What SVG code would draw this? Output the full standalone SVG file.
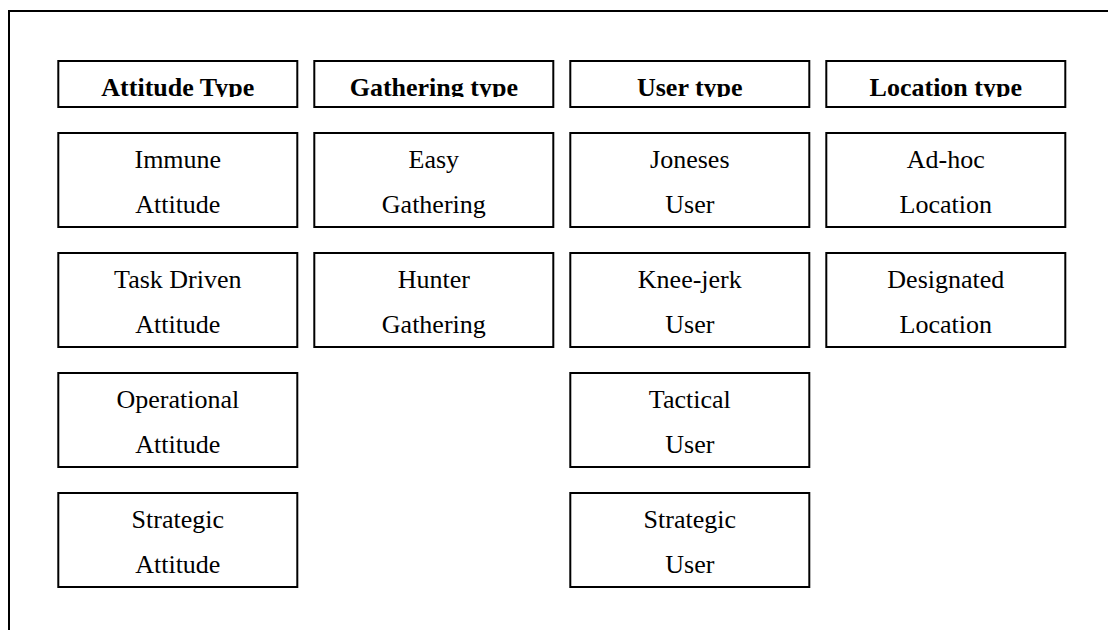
<svg xmlns="http://www.w3.org/2000/svg" width="1108" height="630" viewBox="0 0 1108 630">
  <style>
    .box { fill: #ffffff; stroke: #000000; stroke-width: 2; }
    .frame { fill: none; stroke: #000000; stroke-width: 2; }
    .hd { font-family: "Liberation Serif", "Times New Roman", serif; font-weight: bold; font-size: 26px; text-anchor: middle; fill: #000000; }
    .tx { font-family: "Liberation Serif", "Times New Roman", serif; font-size: 26px; text-anchor: middle; fill: #000000; }
  </style>
  <defs>
    <!-- header labels are cut just below the baseline -->
    <clipPath id="hdclip">
      <rect x="0" y="60" width="1108" height="37"/>
    </clipPath>
  </defs>
  <rect x="0" y="0" width="1108" height="630" fill="#ffffff"/>

  <!-- outer frame, running off the right and bottom edges -->
  <path class="frame" d="M 9 632 V 11 H 1110"/>

  <!-- column headers -->
  <g id="hdr-attitude">
    <rect class="box" x="58.3" y="61" width="239" height="46"/>
    <text class="hd" x="177.8" y="95.5" clip-path="url(#hdclip)">Attitude Type</text>
  </g>
  <g id="hdr-gathering">
    <rect class="box" x="314.3" y="61" width="239" height="46"/>
    <text class="hd" x="433.8" y="95.5" clip-path="url(#hdclip)">Gathering type</text>
  </g>
  <g id="hdr-user">
    <rect class="box" x="570.3" y="61" width="239" height="46"/>
    <text class="hd" x="689.8" y="95.5" clip-path="url(#hdclip)">User type</text>
  </g>
  <g id="hdr-location">
    <rect class="box" x="826.3" y="61" width="239" height="46"/>
    <text class="hd" x="945.8" y="95.5" clip-path="url(#hdclip)">Location type</text>
  </g>

  <!-- attitude column -->
  <g id="immune-attitude">
    <rect class="box" x="58.3" y="133" width="239" height="94"/>
    <text class="tx" x="177.8" y="167.5">Immune</text>
    <text class="tx" x="177.8" y="212.7">Attitude</text>
  </g>
  <g id="task-driven-attitude">
    <rect class="box" x="58.3" y="253" width="239" height="94"/>
    <text class="tx" x="177.8" y="287.5">Task Driven</text>
    <text class="tx" x="177.8" y="332.7">Attitude</text>
  </g>
  <g id="operational-attitude">
    <rect class="box" x="58.3" y="373" width="239" height="94"/>
    <text class="tx" x="177.8" y="407.5">Operational</text>
    <text class="tx" x="177.8" y="452.7">Attitude</text>
  </g>
  <g id="strategic-attitude">
    <rect class="box" x="58.3" y="493" width="239" height="94"/>
    <text class="tx" x="177.8" y="527.5">Strategic</text>
    <text class="tx" x="177.8" y="572.7">Attitude</text>
  </g>

  <!-- gathering column -->
  <g id="easy-gathering">
    <rect class="box" x="314.3" y="133" width="239" height="94"/>
    <text class="tx" x="433.8" y="167.5">Easy</text>
    <text class="tx" x="433.8" y="212.7">Gathering</text>
  </g>
  <g id="hunter-gathering">
    <rect class="box" x="314.3" y="253" width="239" height="94"/>
    <text class="tx" x="433.8" y="287.5">Hunter</text>
    <text class="tx" x="433.8" y="332.7">Gathering</text>
  </g>

  <!-- user column -->
  <g id="joneses-user">
    <rect class="box" x="570.3" y="133" width="239" height="94"/>
    <text class="tx" x="689.8" y="167.5">Joneses</text>
    <text class="tx" x="689.8" y="212.7">User</text>
  </g>
  <g id="knee-jerk-user">
    <rect class="box" x="570.3" y="253" width="239" height="94"/>
    <text class="tx" x="689.8" y="287.5">Knee-jerk</text>
    <text class="tx" x="689.8" y="332.7">User</text>
  </g>
  <g id="tactical-user">
    <rect class="box" x="570.3" y="373" width="239" height="94"/>
    <text class="tx" x="689.8" y="407.5">Tactical</text>
    <text class="tx" x="689.8" y="452.7">User</text>
  </g>
  <g id="strategic-user">
    <rect class="box" x="570.3" y="493" width="239" height="94"/>
    <text class="tx" x="689.8" y="527.5">Strategic</text>
    <text class="tx" x="689.8" y="572.7">User</text>
  </g>

  <!-- location column -->
  <g id="adhoc-location">
    <rect class="box" x="826.3" y="133" width="239" height="94"/>
    <text class="tx" x="945.8" y="167.5">Ad-hoc</text>
    <text class="tx" x="945.8" y="212.7">Location</text>
  </g>
  <g id="designated-location">
    <rect class="box" x="826.3" y="253" width="239" height="94"/>
    <text class="tx" x="945.8" y="287.5">Designated</text>
    <text class="tx" x="945.8" y="332.7">Location</text>
  </g>

  <!-- no connectors between the boxes -->
  <g id="connectors"/>
</svg>
